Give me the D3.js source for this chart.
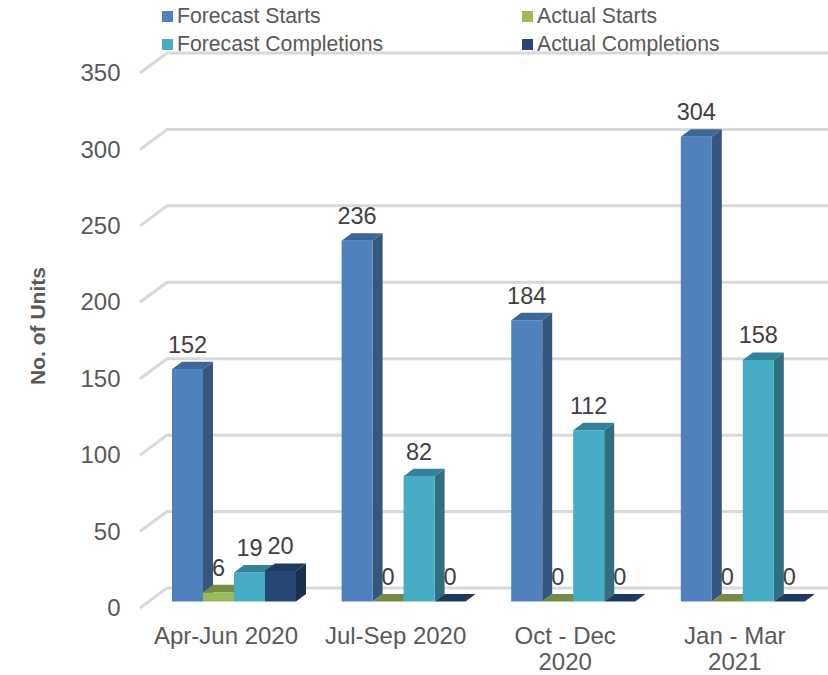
<!DOCTYPE html>
<html>
<head>
<meta charset="utf-8">
<script src="https://cdn.jsdelivr.net/npm/d3@7"></script>
<style>
  html, body { margin: 0; background: #fff; }
  svg { display: block; }
  text { font-family: "Liberation Sans", Arial, sans-serif; }
</style>
</head>
<body>
<div id="chart"></div>
<script>
const categories = [["Apr-Jun 2020"], ["Jul-Sep 2020"], ["Oct - Dec", "2020"], ["Jan - Mar", "2021"]];
const seriesNames = ["Forecast Starts", "Actual Starts", "Forecast Completions", "Actual Completions"];
const forecastStarts = [152, 236, 184, 304];
const actualStarts = [6, 0, 0, 0];
const forecastCompletions = [19, 82, 112, 158];
const actualCompletions = [20, 0, 0, 0];
const yTicks = [0, 50, 100, 150, 200, 250, 300, 350];

const seriesValues = [forecastStarts, actualStarts, forecastCompletions, actualCompletions];
const frontColors = ["#4f81bd", "#9bbb59", "#46acc6", "#264773"];
const sideColors = ["#35577f", "#6a7f3d", "#2f6f80", "#1b2f4e"];
const topColors = ["#3e6696", "#748c43", "#338299", "#1f3a5e"];

const W = 828, H = 675;
const depthX = 10, depthY = 7.5;   // bar depth
const backDx = 27, backDy = 20;    // floor depth of the wall

const svg = d3.select("#chart").append("svg").attr("width", W).attr("height", H);

const y = d3.scaleLinear().domain([0, 350]).range([601.5, 66.5]);
const x0 = d3.scaleBand().domain(d3.range(categories.length)).range([149.2, 827.6]).paddingInner(0).paddingOuter(0);
const groupW = 124;
const x1 = d3.scaleBand().domain(d3.range(seriesNames.length)).range([0, groupW]);
const groupX = i => x0(i) + (x0.bandwidth() - groupW) / 2;

// Gridlines: side wall diagonal + back wall
const grid = svg.append("g");
yTicks.forEach(t => {
  const py = y(t);
  grid.append("path")
    .attr("d", `M140,${py + 6.5}L${140 + backDx},${py + 6.5 - backDy}L828,${py + 6.5 - backDy}`)
    .attr("fill", "none").attr("stroke", "#d9d9d9").attr("stroke-width", 3);
});

// Y axis labels
const yAxis = d3.axisLeft(d3.scaleLinear().domain(y.domain()).range([y(0) + 6.5, y(350) + 6.5]))
  .tickValues(yTicks).tickSize(0).tickPadding(0);
const yG = svg.append("g").attr("transform", "translate(120.5,0)").call(yAxis);
yG.select(".domain").remove();
yG.selectAll("text").attr("fill", "#595959").attr("font-size", 24)
  .style("font-family", '"Liberation Sans", Arial, sans-serif');

svg.append("text")
  .attr("transform", "translate(45,326) rotate(-90)")
  .attr("text-anchor", "middle").attr("fill", "#595959")
  .attr("font-size", 21).attr("font-weight", "bold")
  .text("No. of Units");

// Bars, left to right so each one overlaps the side of the previous one
const bars = svg.append("g");
const labels = svg.append("g");
categories.forEach((cat, i) => {
  seriesValues.forEach((vals, s) => {
    const v = vals[i];
    const xl = groupX(i) + x1(s), xr = xl + x1.bandwidth();
    const yt = y(v), yb = y(0);
    const g = bars.append("g");
    if (v > 0) {
      g.append("path").attr("fill", sideColors[s])
        .attr("d", `M${xr},${yt}L${xr + depthX},${yt - depthY}L${xr + depthX},${yb - depthY}L${xr},${yb}Z`);
      g.append("rect").attr("x", xl).attr("y", yt).attr("width", xr - xl).attr("height", yb - yt)
        .attr("fill", frontColors[s]);
    }
    g.append("path").attr("fill", topColors[s])
      .attr("d", `M${xl},${yt}L${xl + depthX},${yt - depthY}L${xr + depthX},${yt - depthY}L${xr},${yt}Z`);

    labels.append("text")
      .attr("x", (xl + xr) / 2).attr("y", yt - 16.5)
      .attr("text-anchor", "middle").attr("fill", "#404040").attr("font-size", 23.5)
      .text(v);
  });

  // Category labels
  const t = svg.append("text").attr("text-anchor", "middle").attr("fill", "#595959").attr("font-size", 24);
  cat.forEach((line, k) => {
    t.append("tspan").attr("x", groupX(i) + groupW / 2 - 8).attr("y", 643.5 + k * 26.3).text(line);
  });
});

// Legend: two columns, two rows
const legendCols = [162, 522], legendRows = [11, 39];
seriesNames.forEach((name, s) => {
  const lx = legendCols[s % 2], ly = legendRows[Math.floor(s / 2)];
  svg.append("rect").attr("x", lx).attr("y", ly).attr("width", 11).attr("height", 11).attr("fill", frontColors[s]);
  svg.append("text").attr("x", lx + 15).attr("y", ly + 11.5)
    .attr("fill", "#595959").attr("font-size", 21.2).text(name);
});
</script>
</body>
</html>
